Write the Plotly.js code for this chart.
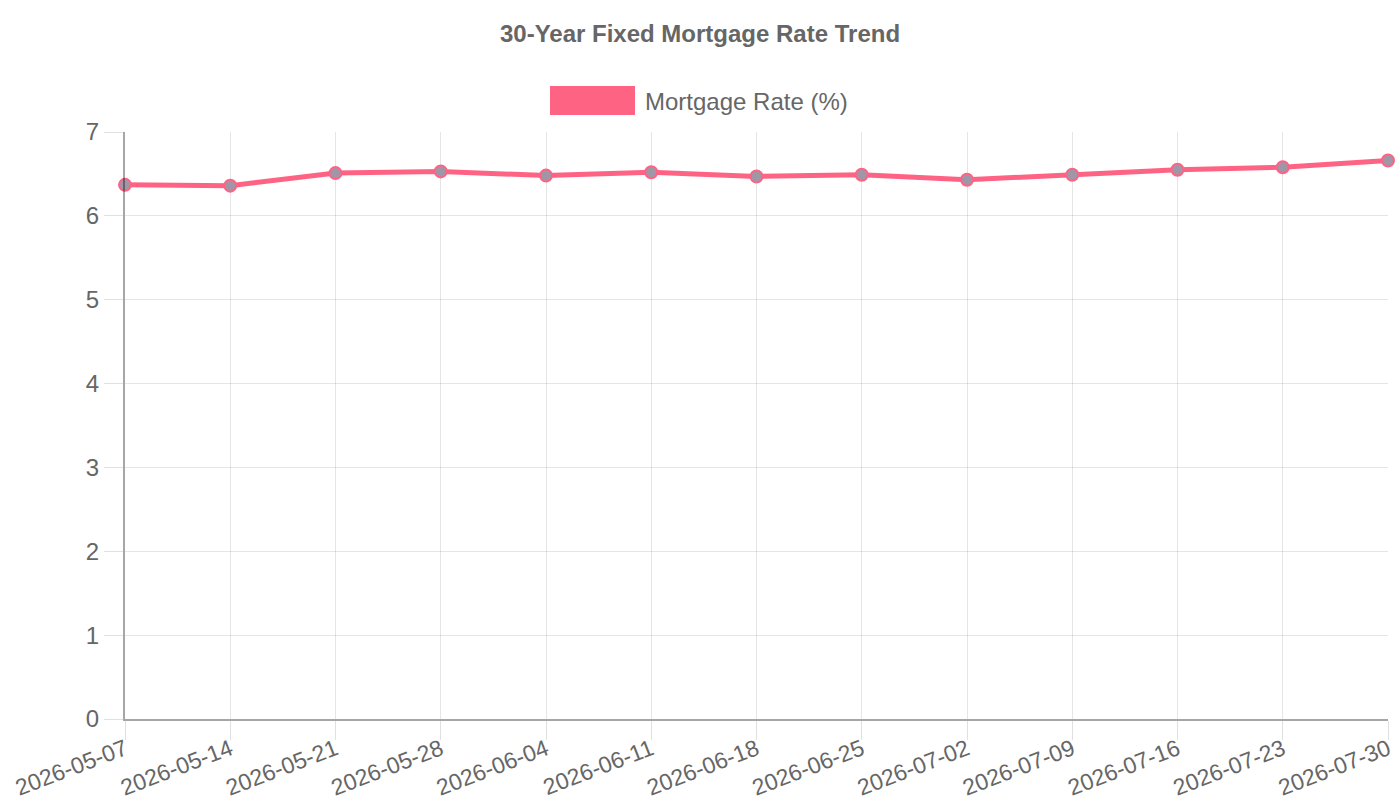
<!DOCTYPE html>
<html>
<head>
<meta charset="utf-8">
<script src="https://cdn.plot.ly/plotly-3.0.1.min.js"></script>
<style>html,body{margin:0;padding:0;background:#fff;}#chart{width:1400px;height:800px;}</style>
</head>
<body>
<div id="chart"></div>
<script>
const dates = ["2026-05-07","2026-05-14","2026-05-21","2026-05-28","2026-06-04","2026-06-11","2026-06-18","2026-06-25","2026-07-02","2026-07-09","2026-07-16","2026-07-23","2026-07-30"];
const rates = [6.37, 6.36, 6.51, 6.53, 6.48, 6.52, 6.47, 6.49, 6.43, 6.49, 6.55, 6.58, 6.66];
const seriesName = "Mortgage Rate (%)";
const chartTitle = "30-Year Fixed Mortgage Rate Trend";
const yTicks = [0, 1, 2, 3, 4, 5, 6, 7];

const pink = "rgb(255,99,132)";
const font = "Liberation Sans, Arial, sans-serif";

const trace = {
  x: dates,
  y: rates,
  type: "scatter",
  mode: "lines+markers",
  name: seriesName,
  line: {color: pink, width: 5},
  marker: {size: 12, color: "rgb(160,150,168)", line: {color: pink, width: 2}},
  showlegend: false,
  cliponaxis: false
};

const layout = {
  width: 1400, height: 800,
  margin: {l: 125, r: 12, t: 132, b: 81},
  paper_bgcolor: "#fff", plot_bgcolor: "#fff",
  font: {family: font, color: "#666"},
  title: {text: "<b>" + chartTitle + "</b>", x: 0.5, xanchor: "center", y: 0.958, yanchor: "middle",
          font: {family: font, size: 24, color: "#666"}},
  xaxis: {
    type: "category", range: [0, dates.length - 1],
    showgrid: true, gridcolor: "rgba(0,0,0,0.1)", gridwidth: 1,
    showline: true, linecolor: "rgba(0,0,0,0.35)", linewidth: 2,
    ticks: "outside", ticklen: 19, tickcolor: "rgba(0,0,0,0.12)",
    ticklabelstandoff: -13,
    tickangle: -21, tickfont: {family: font, size: 23, color: "#666"},
    zeroline: false
  },
  yaxis: {
    range: [0, 7], tickvals: yTicks,
    showgrid: true, gridcolor: "rgba(0,0,0,0.1)", gridwidth: 1,
    showline: true, linecolor: "rgba(0,0,0,0.35)", linewidth: 2,
    ticks: "outside", ticklen: 19, tickcolor: "rgba(0,0,0,0.12)",
    tickfont: {family: font, size: 24, color: "#666"},
    zeroline: false
  },
  shapes: [{
    type: "rect", xref: "paper", yref: "paper",
    x0: (550 - 125) / 1263, x1: (635 - 125) / 1263,
    y0: (719 - 115) / 587, y1: (719 - 86) / 587,
    fillcolor: pink, line: {width: 0}
  }],
  annotations: [{
    text: seriesName, xref: "paper", yref: "paper",
    x: (643 - 125) / 1263, y: (719 - 101) / 587,
    xanchor: "left", yanchor: "middle", showarrow: false,
    font: {family: font, size: 24, color: "#666"}
  }]
};

Plotly.newPlot("chart", [trace], layout, {displayModeBar: false, staticPlot: true});
</script>
</body>
</html>
